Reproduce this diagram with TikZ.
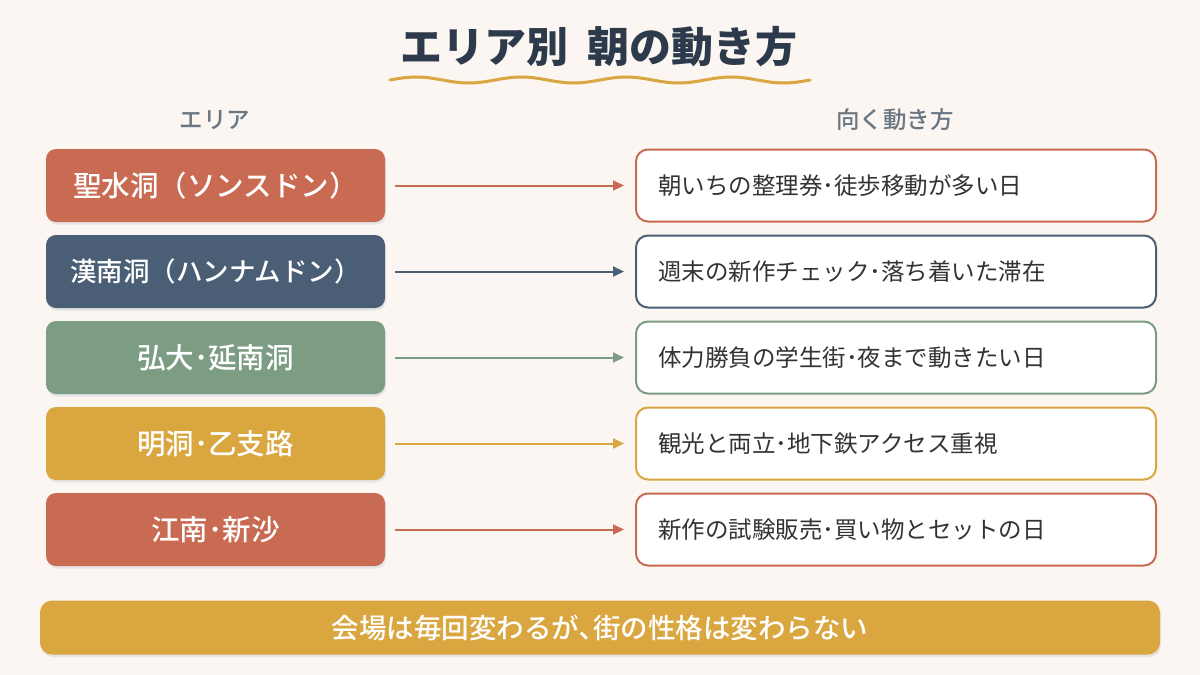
\documentclass[tikz,border=0pt]{standalone}
\usepackage{fontspec}
\setmainfont{Noto Sans CJK JP}
\newfontfamily\medfont{Noto Sans CJK JP Medium}
\usetikzlibrary{arrows.meta}
\definecolor{bg}{HTML}{FBF6F1}
\definecolor{terra}{HTML}{C96A52}
\definecolor{navy}{HTML}{4A5E75}
\definecolor{sage}{HTML}{7C9C83}
\definecolor{mustard}{HTML}{D9A640}
\definecolor{titlec}{HTML}{2C3A4B}
\definecolor{headc}{HTML}{6B7683}
\definecolor{textc}{HTML}{333333}
\tikzset{
  area/.style={fill=#1, rounded corners=10pt, minimum width=339pt, minimum height=73pt, text=white, font=\fontsize{28.5}{33}\medfont, inner sep=0pt},
  desc/.style={draw=#1, line width=2pt, fill=white, rounded corners=12pt, minimum width=520pt, minimum height=72pt, text=textc, font=\fontsize{23.5}{28}\selectfont, inner sep=0pt, text width=476pt, align=left},
  shadowbox/.style={fill=black!10, rounded corners=10pt, minimum width=339pt, minimum height=73pt, inner sep=0pt},
  link/.style={draw=#1, line width=2pt, -{Triangle[length=11pt,width=10pt]}},
  head/.style={text=headc, font=\fontsize{23.5}{27}\medfont}
}
\begin{document}
\begin{tikzpicture}[x=1pt,y=-1pt]
\fill[bg] (0,0) rectangle (1200,675);
\useasboundingbox (0,0) rectangle (1200,675);
% title
\node[text=titlec, font=\fontsize{42}{46}\selectfont\bfseries] (title) at (599,47) {エリア別\hspace{0.45em}朝の動き方};
\draw[mustard, line width=3pt, line cap=round] plot[domain=390:810, samples=120, smooth] (\x, {80-3*sin((\x-390)/105*360)});
% headers
\node[head] (h1) at (215,120) {エリア};
\node[head] (h2) at (895,120) {向く動き方};
% rows
\foreach \i/\c/\a/\d in {
  1/terra/{聖水洞（ソンスドン）}/{朝いちの整理券･徒歩移動が多い日},
  2/navy/{\fontsize{26.5}{31}\selectfont 漢南洞（ハンナムドン）}/{週末の新作チェック･落ち着いた滞在},
  3/sage/{弘大･延南洞}/{体力勝負の学生街･夜まで動きたい日},
  4/mustard/{明洞･乙支路}/{観光と両立･地下鉄アクセス重視},
  5/terra/{江南･新沙}/{新作の試験販売･買い物とセットの日}} {
  \pgfmathsetmacro{\yy}{185.5+86*(\i-1)}
  \node[shadowbox] at (216.5,\yy+2.5) {};
  \node[area=\c] (a\i) at (215.5,\yy) {\a};
  \node[desc=\c] (d\i) at (896,\yy) {\d};
  \draw[link=\c] ([xshift=10pt]a\i.east) -- ([xshift=-11pt]d\i.west);
}
% bottom bar
\node[fill=black!10, rounded corners=12pt, minimum width=1120pt, minimum height=54pt] at (601,630) {};
\node[fill=mustard, rounded corners=12pt, minimum width=1120pt, minimum height=54pt, text=white, font=\fontsize{27.5}{31}\medfont, inner sep=0pt] (bar) at (600,627.5) {会場は毎回変わるが､街の性格は変わらない};
\end{tikzpicture}
\end{document}
